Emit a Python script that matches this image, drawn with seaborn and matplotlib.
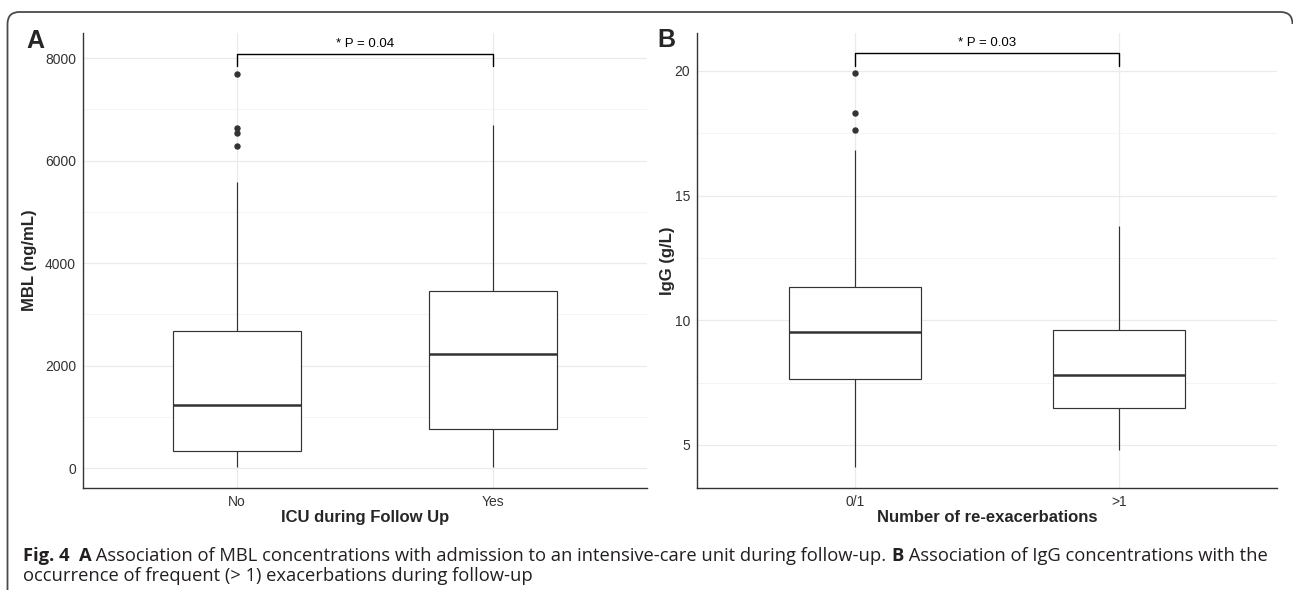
import matplotlib
matplotlib.use("Agg")
import matplotlib.pyplot as plt
import seaborn as sns
import pandas as pd
from matplotlib.ticker import MultipleLocator
from matplotlib.patches import PathPatch
from matplotlib.path import Path
from matplotlib.transforms import IdentityTransform

# panel A: MBL (ng/mL) by ICU admission during follow up
icu_groups = ["No", "Yes"]
mbl_no = [10, 60, 140, 220, 290, 337, 520, 750, 930, 1100, 1232,
          1500, 1800, 2100, 2400, 2678, 5579, 6280, 6540, 6643, 7694]
mbl_yes = [10, 759, 2219, 3457, 6702]
mbl_ticks = [0, 2000, 4000, 6000, 8000]
p_text_a = "* P = 0.04"
bracket_a = [7837, 8084]

# panel B: IgG (g/L) by number of re-exacerbations
exac_groups = ["0/1", ">1"]
igg_01 = [4.11, 5.2, 6.3, 7.1, 7.63, 8.2, 8.7, 9.1, 9.53, 10.0, 10.6, 11.0,
          11.34, 16.81, 17.62, 18.3, 19.91]
igg_gt1 = [4.80, 6.50, 7.82, 9.62, 13.79]
igg_ticks = [5, 10, 15, 20]
p_text_b = "* P = 0.03"
bracket_b = [20.2, 20.71]

caption1 = [("Fig. 4  A", "bold"),
            (" Association of MBL concentrations with admission to an intensive-care unit during follow-up. ", "normal"),
            ("B", "bold"),
            (" Association of IgG concentrations with the", "normal")]
caption2 = [("occurrence of frequent (> 1) exacerbations during follow-up", "normal")]

df_a = pd.DataFrame({"icu": [icu_groups[0]] * len(mbl_no) + [icu_groups[1]] * len(mbl_yes),
                     "mbl": mbl_no + mbl_yes})
df_b = pd.DataFrame({"exac": [exac_groups[0]] * len(igg_01) + [exac_groups[1]] * len(igg_gt1),
                     "igg": igg_01 + igg_gt1})

sns.set_style("white")
plt.rcParams['font.family'] = ['Liberation Sans', 'DejaVu Sans']

W, H = 1293, 590
fig = plt.figure(figsize=(W / 100, H / 100), dpi=100)
ax_a = fig.add_axes([83 / W, 1 - 488 / H, 564 / W, 455 / H])
ax_b = fig.add_axes([697 / W, 1 - 488 / H, 580 / W, 455 / H])

dark = "#333333"
box_kw = dict(width=0.5, color="white", linecolor=dark, linewidth=0.85,
              showcaps=False, saturation=1,
              medianprops=dict(linewidth=1.8, color=dark),
              flierprops=dict(marker="o", markersize=3.6,
                              markerfacecolor=dark, markeredgecolor=dark))

sns.boxplot(data=df_a, x="icu", y="mbl", order=icu_groups, ax=ax_a, **box_kw)
sns.boxplot(data=df_b, x="exac", y="igg", order=exac_groups, ax=ax_b, **box_kw)


def style(ax, ylim, ticks, minor, xlabel, ylabel, ylab_x, bracket, ptext):
    ax.set_xlim(-0.6, 1.6)
    ax.set_ylim(*ylim)
    ax.set_yticks(ticks)
    ax.yaxis.set_minor_locator(MultipleLocator(minor))
    ax.set_axisbelow(True)
    ax.grid(which="major", axis="both", color="#EBEBEB", linewidth=0.9)
    ax.grid(which="minor", axis="y", color="#F3F3F3", linewidth=0.6)
    for s in ["top", "right"]:
        ax.spines[s].set_visible(False)
    for s in ["left", "bottom"]:
        ax.spines[s].set_color(dark)
        ax.spines[s].set_linewidth(1.0)
    ax.tick_params(which="major", length=3, width=0.8, color=dark,
                   labelsize=10, labelcolor=dark, pad=2)
    ax.tick_params(which="minor", length=0)
    ax.set_xlabel(xlabel, fontsize=12, fontweight="bold", labelpad=1)
    ax.set_ylabel(ylabel, fontsize=12, fontweight="bold")
    ax.yaxis.set_label_coords(ylab_x, 0.5)
    ax.plot([0, 0, 1, 1], [bracket[0], bracket[1], bracket[1], bracket[0]],
            color="black", linewidth=1.0, clip_on=False)
    ax.annotate(ptext, xy=(0.5, bracket[1]), xytext=(0, 3), textcoords="offset points",
                ha="center", va="bottom", fontsize=9.5, color="black")


style(ax_a, (-390, 8488), mbl_ticks, 1000, "ICU during Follow Up", "MBL (ng/mL)",
      -0.081, bracket_a, p_text_a)
style(ax_b, (3.275, 21.52), igg_ticks, 2.5, "Number of re-exacerbations", "IgG (g/L)",
      -0.038, bracket_b, p_text_b)

fig.text(26 / W, 1 - 48 / H, "A", fontsize=18, fontweight="bold", va="baseline")
fig.text(657 / W, 1 - 47 / H, "B", fontsize=18, fontweight="bold", va="baseline")

# journal frame: left side, top with rounded corners, right side runs off the picture
r = 12
left, top, right = 7.5, 578, 1292.5
verts = [(left, -5), (left, top - r), (left, top), (left + r, top),
         (right - r, top), (right, top), (right, top - r)]
codes = [Path.MOVETO, Path.LINETO, Path.CURVE3, Path.CURVE3,
         Path.LINETO, Path.CURVE3, Path.CURVE3]
frame = PathPatch(Path(verts, codes), transform=IdentityTransform(), fill=False,
                  edgecolor="#4a4a4a", linewidth=1.3)
fig.add_artist(frame)

# caption, fitted to the line width of the reference
renderer = fig.canvas.get_renderer()
cap_font = ["Open Sans", "DejaVu Sans"]


def runs_width(runs, size):
    w = 0
    for txt, weight in runs:
        t = fig.text(0, 0, txt, fontsize=size, fontweight=weight, family=cap_font)
        w += t.get_window_extent(renderer).width
        t.remove()
    return w


cap_size = 11 * 1254 / runs_width(caption1, 11)


def caption_line(runs, x0, y):
    x = x0
    for txt, weight in runs:
        t = fig.text(x / W, 1 - y / H, txt, fontsize=cap_size, fontweight=weight,
                     family=cap_font, color="#231f20", va="baseline")
        x += t.get_window_extent(renderer).width


caption_line(caption1, 22.7, 561)
caption_line(caption2, 22.7, 581)

fig.savefig("out.png", dpi=100)
